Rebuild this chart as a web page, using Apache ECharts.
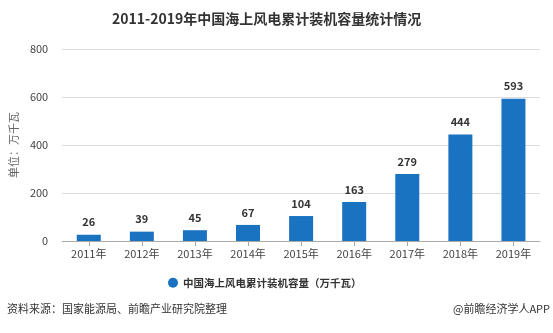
<!DOCTYPE html>
<html>
<head>
<meta charset="utf-8">
<script src="https://cdn.jsdelivr.net/npm/echarts@6/dist/echarts.min.js"></script>
<style>
  html, body { margin: 0; padding: 0; background: #fff; }
  #chart { width: 553px; height: 333px; }
</style>
</head>
<body>
<div id="chart"></div>
<script>
const years = ['2011年', '2012年', '2013年', '2014年', '2015年', '2016年', '2017年', '2018年', '2019年'];
const capacity = [26, 39, 45, 67, 104, 163, 279, 444, 593];
const seriesName = '中国海上风电累计装机容量（万千瓦）';
const yMin = 0, yMax = 800, yStep = 200;

const font = '"Microsoft YaHei", "Noto Sans CJK SC", sans-serif';
const chart = echarts.init(document.getElementById('chart'), null, { renderer: 'canvas' });

chart.setOption({
  backgroundColor: '#fff',
  animation: false,
  textStyle: { fontFamily: font },
  title: {
    text: '2011-2019年中国海上风电累计装机容量统计情况',
    left: 107,
    top: 7,
    textStyle: { fontSize: 14, fontWeight: 'bold', color: '#333', fontFamily: font }
  },
  legend: {
    data: [seriesName],
    bottom: 40,
    left: 163,
    icon: 'circle',
    itemWidth: 10,
    itemHeight: 10,
    itemGap: 6,
    textStyle: { fontSize: 10.5, fontWeight: 'bold', color: '#333', fontFamily: font }
  },
  graphic: [
    {
      type: 'text', left: 7, top: 303,
      style: { text: '资料来源：国家能源局、前瞻产业研究院整理', fontSize: 11, fill: '#333', fontFamily: font }
    },
    {
      type: 'text', right: 3, top: 303,
      style: { text: '@前瞻经济学人APP', fontSize: 11, fill: '#333', fontFamily: font }
    }
  ],
  grid: { left: 60, right: 13, top: 49, height: 192, containLabel: false },
  xAxis: {
    type: 'category',
    data: years,
    axisLine: { lineStyle: { color: '#aaa' } },
    axisTick: { show: true, alignWithLabel: true, lineStyle: { color: '#aaa' } },
    axisLabel: { fontSize: 11, color: '#444', margin: 7, fontFamily: font }
  },
  yAxis: {
    type: 'value',
    min: yMin, max: yMax, interval: yStep,
    name: '单位：万千瓦',
    nameLocation: 'middle',
    nameGap: 32,
    nameTextStyle: { fontSize: 11, color: '#666', fontFamily: font },
    axisLine: { show: false },
    axisTick: { show: false },
    axisLabel: { fontSize: 11, color: '#444', margin: 14, fontFamily: font },
    splitLine: { lineStyle: { color: '#dcdcdc' } }
  },
  series: [{
    name: seriesName,
    type: 'bar',
    data: capacity,
    barWidth: 24,
    itemStyle: { color: '#1a73c1' },
    label: {
      show: true,
      position: 'top',
      distance: 7,
      fontSize: 11,
      fontWeight: 'bold',
      color: '#333',
      fontFamily: font
    }
  }]
});
</script>
</body>
</html>
